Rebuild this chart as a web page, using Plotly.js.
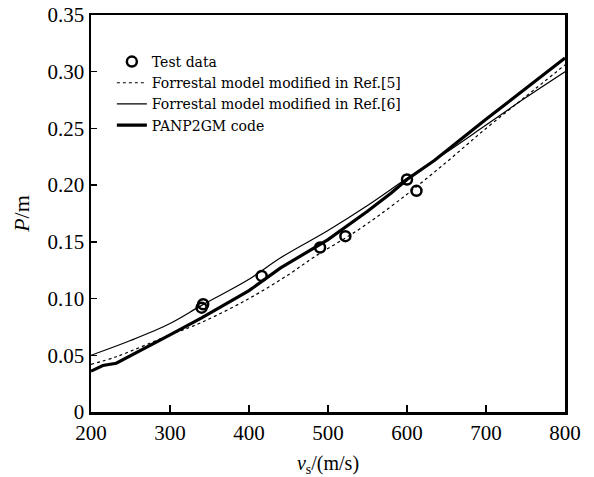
<!DOCTYPE html>
<html>
<head>
<meta charset="utf-8">
<script src="https://cdn.plot.ly/plotly-3.0.1.min.js"></script>
<style>
html,body{margin:0;padding:0;background:#fff;}
#chart{width:594px;height:477px;}
</style>
</head>
<body>
<div id="chart"></div>
<script>
// Test data
var testX = [340, 342, 416, 490, 522, 600, 612];
var testY = [0.092, 0.095, 0.120, 0.145, 0.155, 0.205, 0.195];

// Forrestal model modified in Ref.[5] (dotted)
var ref5X = [200, 233, 300, 340, 400, 452, 481, 537, 587, 646, 700, 750, 800];
var ref5Y = [0.042, 0.049, 0.068, 0.079, 0.100, 0.122, 0.136, 0.160, 0.185, 0.218, 0.250, 0.278, 0.306];

// Forrestal model modified in Ref.[6] (thin solid)
var ref6X = [200, 250, 300, 340, 400, 440, 500, 550, 600, 650, 700, 750, 800];
var ref6Y = [0.050, 0.063, 0.078, 0.094, 0.117, 0.136, 0.160, 0.182, 0.206, 0.229, 0.253, 0.277, 0.300];

// PANP2GM code (thick solid)
var panX = [200, 215, 232, 260, 300, 340, 400, 440, 500, 550, 580, 600, 635, 700, 750, 800];
var panY = [0.036, 0.041, 0.043, 0.053, 0.068, 0.083, 0.107, 0.127, 0.152, 0.177, 0.193, 0.205, 0.222, 0.258, 0.285, 0.312];

var xTicks = [200, 300, 400, 500, 600, 700, 800];
var xTickText = ['200', '300', '400', '500', '600', '700', '800'];
var yTicks = [0, 0.05, 0.10, 0.15, 0.20, 0.25, 0.30, 0.35];
var yTickText = ['0', '0.05', '0.10', '0.15', '0.20', '0.25', '0.30', '0.35'];

var names = ['Test data', 'Forrestal model modified in Ref.[5]', 'Forrestal model modified in Ref.[6]', 'PANP2GM code'];

var serif = 'Liberation Serif, Times New Roman, serif';
var legendFont = 'DejaVu Serif, Liberation Serif, serif';

var traces = [
  {x: testX, y: testY, name: names[0], type: 'scatter', mode: 'markers',
   marker: {symbol: 'circle-open', size: 10, color: '#000', line: {width: 2.5, color: '#000'}}},
  {x: ref5X, y: ref5Y, name: names[1], type: 'scatter', mode: 'lines',
   line: {color: '#000', width: 1.2, dash: 'dot', shape: 'spline'}},
  {x: ref6X, y: ref6Y, name: names[2], type: 'scatter', mode: 'lines',
   line: {color: '#000', width: 1.2, shape: 'spline'}},
  {x: panX, y: panY, name: names[3], type: 'scatter', mode: 'lines',
   line: {color: '#000', width: 3.2}}
];

var layout = {
  width: 594, height: 477,
  margin: {l: 91, r: 29, t: 15, b: 65},
  paper_bgcolor: '#fff', plot_bgcolor: '#fff',
  font: {family: serif, color: '#000', size: 20},
  showlegend: true,
  legend: {x: 0.044, y: 0.922, xanchor: 'left', yanchor: 'top', bgcolor: 'rgba(0,0,0,0)',
           font: {family: legendFont, size: 14, color: '#000'}, tracegroupgap: 0, itemwidth: 30},
  xaxis: {range: [200, 800], tickvals: xTicks, ticktext: xTickText, ticks: 'inside', ticklen: 7,
          tickwidth: 1.5, tickcolor: '#000', showline: true, linewidth: 2.5, linecolor: '#000',
          mirror: true, showgrid: false, zeroline: false, automargin: false,
          tickfont: {family: serif, size: 21, color: '#000'},
          title: {text: '<i>v</i><sub>s</sub>/(m/s)', font: {family: serif, size: 20, color: '#000'}, standoff: 17}},
  yaxis: {range: [0, 0.35], tickvals: yTicks, ticktext: yTickText, ticks: 'inside', ticklen: 6,
          tickwidth: 1.5, tickcolor: '#000', showline: true, linewidth: 2.5, linecolor: '#000',
          mirror: true, showgrid: false, zeroline: false, automargin: false,
          tickfont: {family: serif, size: 21, color: '#000'},
          title: {text: '<i>P</i>/m', font: {family: serif, size: 22, color: '#000'}, standoff: 12}}
};

Plotly.newPlot('chart', traces, layout, {displayModeBar: false, staticPlot: true});
</script>
</body>
</html>
